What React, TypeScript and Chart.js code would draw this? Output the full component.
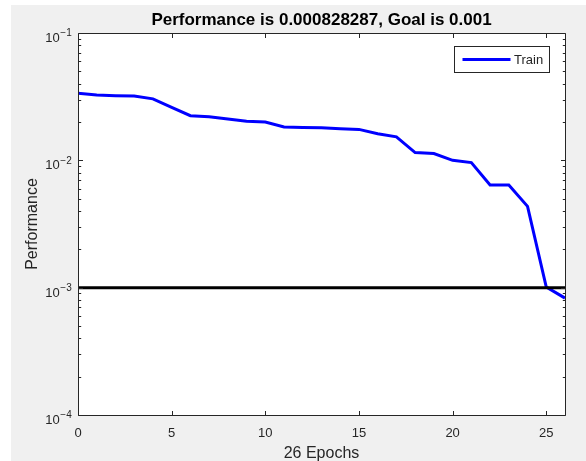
import React, { useEffect, useRef } from "react";
import { Chart, registerables } from "chart.js";

Chart.register(...registerables);

const epochs = [0, 1, 2, 3, 4, 5, 6, 7, 8, 9, 10, 11, 12, 13, 14, 15, 16, 17, 18, 19, 20, 21, 22, 23, 24, 25, 26];
const trainPerf = [
  0.0336, 0.0326, 0.0322, 0.032, 0.0304, 0.0261, 0.0224, 0.022, 0.0211, 0.0203, 0.02, 0.0183, 0.0181, 0.018,
  0.0177, 0.0175, 0.0162, 0.0153, 0.0115, 0.0113, 0.01, 0.0096, 0.0064, 0.0064, 0.00435, 0.00101, 0.000828287,
];
const goalValue = 0.001;
const xTicks = [0, 5, 10, 15, 20, 25];
const yExponents = [-4, -3, -2, -1];
const titleText = "Performance is 0.000828287, Goal is 0.001";
const xLabel = "26 Epochs";
const yLabel = "Performance";
const seriesLabel = "Train";

const AXIS = "#262626";
const FONT = "'Liberation Sans', Arial, Helvetica, sans-serif";

const matlabPlugin = {
  id: "matlabAxes",
  beforeDraw(chart: any) {
    const { ctx, width, height, chartArea: a } = chart;
    ctx.save();
    ctx.fillStyle = "#ffffff";
    ctx.fillRect(0, 0, width, height);
    ctx.fillStyle = "#f0f0f0";
    ctx.fillRect(11, 5, width - 11, height - 5);
    ctx.fillStyle = "#ffffff";
    ctx.fillRect(a.left, a.top, a.right - a.left, a.bottom - a.top);
    ctx.restore();
  },
  afterDatasetsDraw(chart: any) {
    const { ctx, chartArea: a, scales } = chart;
    const xs = scales.x;
    const ys = scales.y;
    const L = Math.round(a.left) + 0.5;
    const R = Math.round(a.right) + 0.5;
    const T = Math.round(a.top) + 0.5;
    const B = Math.round(a.bottom) + 0.5;
    ctx.save();
    ctx.strokeStyle = AXIS;
    ctx.lineWidth = 1;
    ctx.beginPath();
    ctx.rect(L, T, R - L, B - T);
    ctx.stroke();

    // x ticks (bottom and top, inward)
    ctx.beginPath();
    for (const v of xTicks) {
      const px = Math.round(xs.getPixelForValue(v)) + 0.5;
      ctx.moveTo(px, B);
      ctx.lineTo(px, B - 4.5);
      ctx.moveTo(px, T);
      ctx.lineTo(px, T + 4.5);
    }
    // y ticks, major and minor
    for (const e of yExponents) {
      for (let m = 1; m <= 9; m++) {
        if (e === -1 && m > 1) break;
        const v = m * Math.pow(10, e);
        const py = Math.round(ys.getPixelForValue(v)) + 0.5;
        const len = m === 1 ? 4.5 : 2.7;
        ctx.moveTo(L, py);
        ctx.lineTo(L + len, py);
        ctx.moveTo(R, py);
        ctx.lineTo(R - len, py);
      }
    }
    ctx.stroke();

    // x tick labels
    ctx.fillStyle = AXIS;
    ctx.font = `13px ${FONT}`;
    ctx.textAlign = "center";
    ctx.textBaseline = "alphabetic";
    for (const v of xTicks) {
      ctx.fillText(String(v), xs.getPixelForValue(v), a.bottom + 21.5);
    }
    // y tick labels 10^e
    for (const e of yExponents) {
      const py = ys.getPixelForValue(Math.pow(10, e));
      const expStr = "\u2212" + String(-e);
      ctx.font = `10px ${FONT}`;
      const ew = ctx.measureText(expStr).width;
      const expRight = a.left - 6.3;
      ctx.textAlign = "left";
      ctx.fillText(expStr, expRight - ew, py + 3.3);
      ctx.font = `13px ${FONT}`;
      ctx.textAlign = "right";
      ctx.fillText("10", expRight - ew - 0.5, py + 9);
    }

    // axis labels
    ctx.font = `16px ${FONT}`;
    ctx.textAlign = "center";
    ctx.fillText(xLabel, (a.left + a.right) / 2, a.bottom + 43);
    ctx.save();
    ctx.translate(36.7, (a.top + a.bottom) / 2);
    ctx.rotate(-Math.PI / 2);
    ctx.fillText(yLabel, 0, 0);
    ctx.restore();

    // title
    ctx.fillStyle = "#000000";
    ctx.font = `bold 17px ${FONT}`;
    ctx.fillText(titleText, (a.left + a.right) / 2, a.top - 8.5);

    // legend
    const bx = Math.round(a.right - 16 - 95) + 0.5;
    const by = Math.round(a.top + 13) + 0.5;
    const bw = 95;
    const bh = 26;
    ctx.fillStyle = "#ffffff";
    ctx.fillRect(bx, by, bw, bh);
    ctx.strokeStyle = AXIS;
    ctx.lineWidth = 1;
    ctx.strokeRect(bx, by, bw, bh);
    ctx.strokeStyle = "#0000ff";
    ctx.lineWidth = 3;
    ctx.beginPath();
    ctx.moveTo(bx + 8, by + 13);
    ctx.lineTo(bx + 56, by + 13);
    ctx.stroke();
    ctx.fillStyle = AXIS;
    ctx.font = `13px ${FONT}`;
    ctx.textAlign = "left";
    ctx.textBaseline = "middle";
    ctx.fillText(seriesLabel, bx + 59.5, by + 14);
    ctx.restore();
  },
};

export default function App() {
  const ref = useRef<HTMLCanvasElement | null>(null);
  useEffect(() => {
    if (!ref.current) return;
    const chart = new Chart(ref.current, {
      type: "line",
      data: {
        datasets: [
          {
            label: "Goal",
            data: [
              { x: 0, y: goalValue },
              { x: 26, y: goalValue },
            ],
            borderColor: "#000000",
            borderWidth: 3,
            pointRadius: 0,
            order: 0,
          },
          {
            label: seriesLabel,
            data: epochs.map((e, i) => ({ x: e, y: trainPerf[i] })),
            borderColor: "#0000ff",
            borderWidth: 3,
            pointRadius: 0,
            tension: 0,
            order: 1,
          },
        ],
      },
      options: {
        animation: false,
        responsive: false,
        maintainAspectRatio: false,
        layout: { padding: { left: 78, right: 21, top: 33, bottom: 46 } },
        plugins: { legend: { display: false }, title: { display: false }, tooltip: { enabled: false } },
        scales: {
          x: { type: "linear", min: 0, max: 26, display: false },
          y: { type: "logarithmic", min: 1e-4, max: 1e-1, display: false },
        },
      },
      plugins: [matlabPlugin],
    });
    return () => chart.destroy();
  }, []);
  return (
    <div style={{ position: "fixed", left: 0, top: 0, width: 586, height: 461 }}>
      <canvas ref={ref} width={586} height={461} style={{ display: "block", width: 586, height: 461 }} />
    </div>
  );
}
